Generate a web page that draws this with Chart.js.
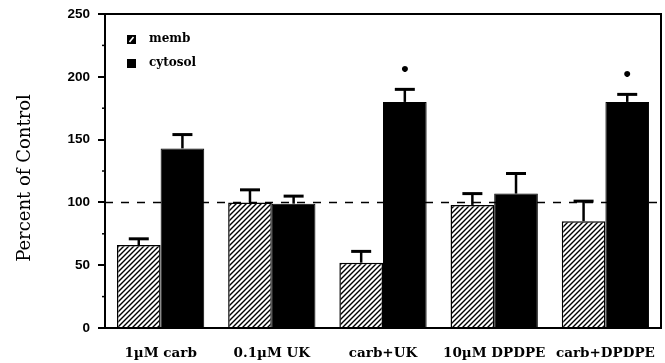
<!DOCTYPE html>
<html><head><meta charset="utf-8">
<script src="https://cdn.jsdelivr.net/npm/chart.js@4"></script>
<style>html,body{margin:0;padding:0;background:#fff}</style>
</head><body>
<canvas id="c" width="665" height="363"></canvas>
<script>
const categories = ['1\u00B5M carb', '0.1\u00B5M UK', 'carb+UK', '10\u00B5M DPDPE', 'carb+DPDPE'];
const membValues = [66, 100, 52, 98, 85];
const membErrors = [5, 10, 9, 9, 16];
const cytosolValues = [143, 99, 180, 107, 180];
const cytosolErrors = [11, 6, 10, 16, 6];
const cytosolSignificant = [false, false, true, false, true];
const yMajorTicks = [0, 50, 100, 150, 200, 250];
const yMinorTicks = [25, 75, 125, 175, 225];
const controlLevel = 100;
const yTitle = 'Percent of Control';

function hatchPattern() {
  const s = 5;
  const pc = document.createElement('canvas');
  pc.width = s; pc.height = s;
  const g = pc.getContext('2d');
  g.fillStyle = '#fff'; g.fillRect(0, 0, s, s);
  g.strokeStyle = '#000'; g.lineWidth = 1.4;
  g.beginPath();
  g.moveTo(0, s); g.lineTo(s, 0);
  g.moveTo(-1, 1); g.lineTo(1, -1);
  g.moveTo(s - 1, s + 1); g.lineTo(s + 1, s - 1);
  g.stroke();
  return document.getElementById('c').getContext('2d').createPattern(pc, 'repeat');
}
const hatch = hatchPattern();
const serif = 'DejaVu Serif';
const sans = 'Liberation Sans';

const overlay = {
  id: 'overlay',
  afterDatasetsDraw(chart) {
    const ctx = chart.ctx;
    const {left, right, top, bottom} = chart.chartArea;
    const y = chart.scales.y;
    ctx.save();
    // dashed control line
    ctx.strokeStyle = '#000'; ctx.lineWidth = 1.5; ctx.setLineDash([8, 8]);
    ctx.beginPath();
    ctx.moveTo(left, y.getPixelForValue(controlLevel));
    ctx.lineTo(right, y.getPixelForValue(controlLevel));
    ctx.stroke();
    ctx.setLineDash([]);
    // error bars
    const errs = [membErrors, cytosolErrors];
    const vals = [membValues, cytosolValues];
    chart.data.datasets.forEach((ds, di) => {
      const meta = chart.getDatasetMeta(di);
      meta.data.forEach((bar, i) => {
        const x = bar.x;
        const yTop = y.getPixelForValue(vals[di][i]);
        const yErr = y.getPixelForValue(vals[di][i] + errs[di][i]);
        ctx.strokeStyle = '#000';
        ctx.lineWidth = 2.5;
        ctx.beginPath(); ctx.moveTo(x, yTop); ctx.lineTo(x, yErr); ctx.stroke();
        ctx.lineWidth = 3;
        ctx.beginPath(); ctx.moveTo(x - 10, yErr); ctx.lineTo(x + 10, yErr); ctx.stroke();
        if (di === 1 && cytosolSignificant[i]) {
          ctx.fillStyle = '#000';
          ctx.font = 'bold 17px ' + serif;
          ctx.textAlign = 'center'; ctx.textBaseline = 'middle';
          ctx.fillText('\u2022', x, yErr - 19);
        }
      });
    });
    // frame top/right
    ctx.lineWidth = 2; ctx.strokeStyle = '#000';
    ctx.beginPath();
    ctx.moveTo(left, top); ctx.lineTo(right, top); ctx.lineTo(right, bottom);
    ctx.stroke();
    // minor ticks
    ctx.lineWidth = 1.5;
    yMinorTicks.forEach(v => {
      const py = y.getPixelForValue(v);
      ctx.beginPath(); ctx.moveTo(left - 3, py); ctx.lineTo(left, py); ctx.stroke();
    });
    // legend
    const items = [
      {label: chart.data.datasets[0].label, y: 40, hatched: true},
      {label: chart.data.datasets[1].label, y: 64, hatched: false}
    ];
    items.forEach(it => {
      ctx.fillStyle = '#000';
      ctx.fillRect(left + 22, it.y - 5, 9, 9);
      if (it.hatched) {
        ctx.strokeStyle = '#fff'; ctx.lineWidth = 1.6;
        ctx.beginPath(); ctx.moveTo(left + 24.5, it.y + 2); ctx.lineTo(left + 28.5, it.y - 3); ctx.stroke();
      }
      ctx.fillStyle = '#000';
      ctx.font = 'bold 12px ' + serif;
      ctx.textAlign = 'left'; ctx.textBaseline = 'middle';
      ctx.fillText(it.label, left + 44, it.y - 1);
    });
    // y axis title
    ctx.save();
    ctx.translate(25, 178);
    ctx.rotate(-Math.PI / 2);
    ctx.fillStyle = '#000';
    ctx.font = '18px ' + serif;
    ctx.textAlign = 'center'; ctx.textBaseline = 'middle';
    ctx.fillText(yTitle, 0, 0);
    ctx.restore();
    ctx.restore();
  }
};

new Chart(document.getElementById('c'), {
  type: 'bar',
  data: {
    labels: categories,
    datasets: [
      {label: 'memb', data: membValues, backgroundColor: hatch, borderColor: '#000', borderWidth: 1.5, borderSkipped: 'bottom'},
      {label: 'cytosol', data: cytosolValues, backgroundColor: '#000', borderColor: '#000', borderWidth: 1, borderSkipped: 'bottom'}
    ]
  },
  options: {
    responsive: false,
    animation: false,
    events: [],
    layout: {padding: {top: 14, right: 4, left: 0, bottom: 0}},
    plugins: {legend: {display: false}, tooltip: {enabled: false}},
    datasets: {bar: {categoryPercentage: 0.785, barPercentage: 1}},
    scales: {
      x: {
        afterFit(s) { s.height = 35; s.paddingLeft = 0; s.paddingRight = 0; },
        grid: {display: false, drawTicks: false},
        border: {color: '#000', width: 2},
        ticks: {color: '#000', padding: 17, maxRotation: 0, autoSkip: false, font: {family: serif, size: 13.5, weight: 'bold'}}
      },
      y: {
        min: 0, max: 250,
        afterFit(s) { s.width = 105; s.paddingTop = 0; s.paddingBottom = 0; },
        afterBuildTicks(s) { s.ticks = yMajorTicks.map(v => ({value: v})); },
        grid: {drawOnChartArea: false, tickLength: 7, color: '#000', lineWidth: 2},
        border: {color: '#000', width: 2},
        ticks: {color: '#000', padding: 8, font: {family: sans, size: 13.5, weight: 'bold'}}
      }
    }
  },
  plugins: [overlay]
});
</script>
</body></html>
